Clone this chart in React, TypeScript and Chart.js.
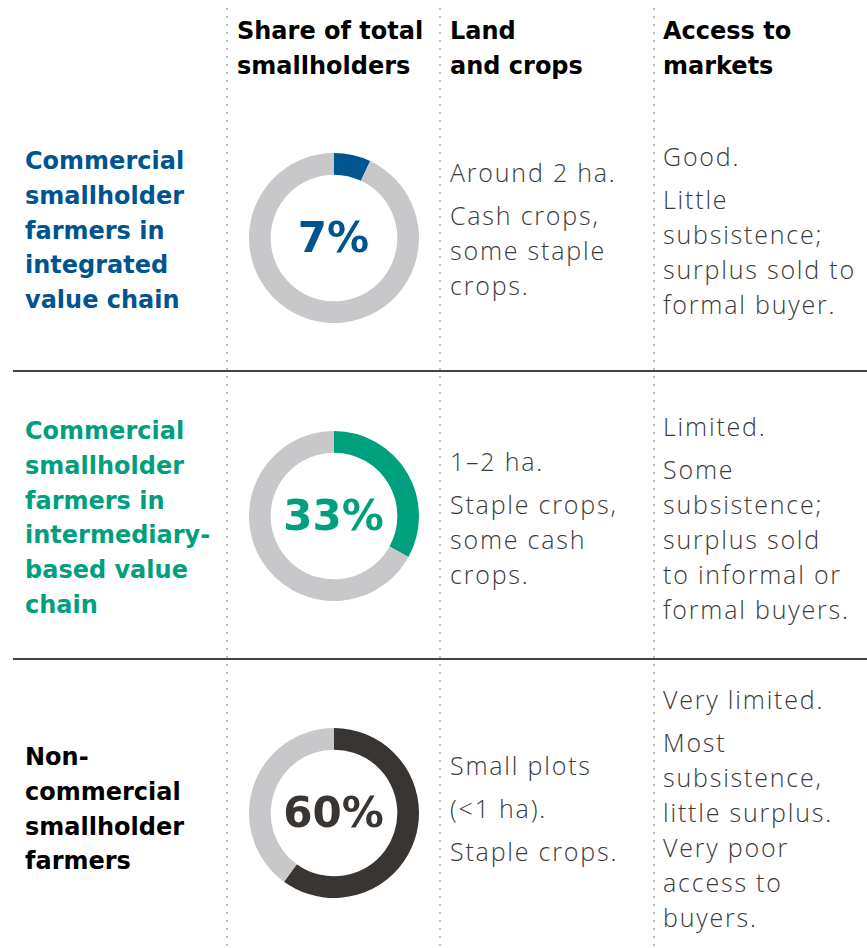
import React, { useEffect, useRef } from "react";
import { Chart, registerables } from "chart.js";

Chart.register(...registerables);

const headers = [["Share of total", "smallholders"], ["Land", "and crops"], ["Access to", "markets"]];
const categories = [
  ["Commercial", "smallholder", "farmers in", "integrated", "value chain"],
  ["Commercial", "smallholder", "farmers in", "intermediary-", "based value", "chain"],
  ["Non-", "commercial", "smallholder", "farmers"],
];
const shares = [7, 33, 60];
const shareColors = ["#00548F", "#00A07E", "#393532"];
const restColor = "#C8C8CA";
const landText = [
  [["Around 2 ha."], ["Cash crops,", "some staple", "crops."]],
  [["1–2 ha."], ["Staple crops,", "some cash", "crops."]],
  [["Small plots"], ["(<1 ha)."], ["Staple crops."]],
];
const marketText = [
  [["Good."], ["Little", "subsistence;", "surplus sold to", "formal buyer."]],
  [["Limited."], ["Some", "subsistence;", "surplus sold", "to informal or", "formal buyers."]],
  [["Very limited."], ["Most", "subsistence,", "little surplus.", "Very poor", "access to", "buyers."]],
];

// layout
const rowCenters = [237.5, 516, 812.5];
const labelTops = [144, 414, 740];
const landTops = [155, 444, 748];
const marketTops = [139, 409, 682];

const BOLD = "'DejaVu Sans', sans-serif";
const LIGHT = "'Open Sans', sans-serif";

function Donut({ value, color, cx, cy }: { value: number; color: string; cx: number; cy: number }) {
  const ref = useRef<HTMLCanvasElement>(null);
  useEffect(() => {
    const chart = new Chart(ref.current!, {
      type: "doughnut",
      data: {
        labels: ["share", "rest"],
        datasets: [{ data: [value, 100 - value], backgroundColor: [color, restColor], borderWidth: 0 }],
      },
      options: {
        animation: false,
        responsive: false,
        cutout: "74.5%",
        plugins: { legend: { display: false }, tooltip: { enabled: false } },
        layout: { padding: 0 },
      },
    });
    return () => chart.destroy();
  }, [value, color]);
  const size = 170;
  return (
    <>
      <canvas
        ref={ref}
        width={size}
        height={size}
        style={{ position: "absolute", left: cx - size / 2, top: cy - size / 2, width: size, height: size }}
      />
      <div
        style={{
          position: "absolute",
          left: cx - 85,
          width: 170,
          top: cy - 30,
          height: 60,
          lineHeight: "60px",
          textAlign: "center",
          fontFamily: BOLD,
          fontWeight: 700,
          fontSize: 42,
          color,
        }}
      >
        {value}%
      </div>
    </>
  );
}

function Paras({ paras, left, top, color }: { paras: string[][]; left: number; top: number; color: string }) {
  return (
    <div
      style={{
        position: "absolute",
        left,
        top,
        fontFamily: LIGHT,
        fontWeight: 300,
        fontSize: 25,
        letterSpacing: "1.8px",
        lineHeight: "35px",
        color,
      }}
    >
      {paras.map((p, i) => (
        <div key={i} style={{ marginBottom: 8, whiteSpace: "nowrap" }}>
          {p.map((l, j) => (
            <div key={j}>{l}</div>
          ))}
        </div>
      ))}
    </div>
  );
}

export default function App() {
  useEffect(() => {
    document.body.style.margin = "0";
  }, []);
  const dotX = [226, 439, 653];
  return (
    <div style={{ position: "relative", width: 867, height: 948, background: "#fff", overflow: "hidden" }}>
      {dotX.map((x, i) => (
        <div
          key={i}
          style={{
            position: "absolute",
            left: x,
            top: 8,
            width: 2,
            height: 940,
            backgroundImage: "linear-gradient(to bottom, #c0c0c0 0px, #c0c0c0 2px, transparent 2px, transparent 100%)",
            backgroundSize: "2px 8px",
          }}
        />
      ))}
      {[371, 659].map((y, i) => (
        <div key={i} style={{ position: "absolute", left: 13, top: y - 1, width: 854, height: 1.5, background: "#444" }} />
      ))}
      {headers.map((h, i) => (
        <div
          key={i}
          style={{
            position: "absolute",
            left: [237, 450, 663][i],
            top: 14,
            fontFamily: BOLD,
            fontWeight: 700,
            fontSize: 24,
            lineHeight: "35px",
            color: "#000",
            whiteSpace: "nowrap",
          }}
        >
          {h.map((l, j) => (
            <div key={j}>{l}</div>
          ))}
        </div>
      ))}
      {categories.map((c, i) => (
        <div
          key={i}
          style={{
            position: "absolute",
            left: 25,
            top: labelTops[i],
            fontFamily: BOLD,
            fontWeight: 700,
            fontSize: 24,
            lineHeight: "34.75px",
            color: i === 2 ? "#000" : shareColors[i],
            whiteSpace: "nowrap",
          }}
        >
          {c.map((l, j) => (
            <div key={j}>{l}</div>
          ))}
        </div>
      ))}
      {shares.map((v, i) => (
        <Donut key={i} value={v} color={shareColors[i]} cx={333.5} cy={rowCenters[i]} />
      ))}
      {landText.map((p, i) => (
        <Paras key={i} paras={p} left={450} top={landTops[i]} color="#3a3a3a" />
      ))}
      {marketText.map((p, i) => (
        <Paras key={i} paras={p} left={663} top={marketTops[i]} color="#3a3a3a" />
      ))}
    </div>
  );
}
